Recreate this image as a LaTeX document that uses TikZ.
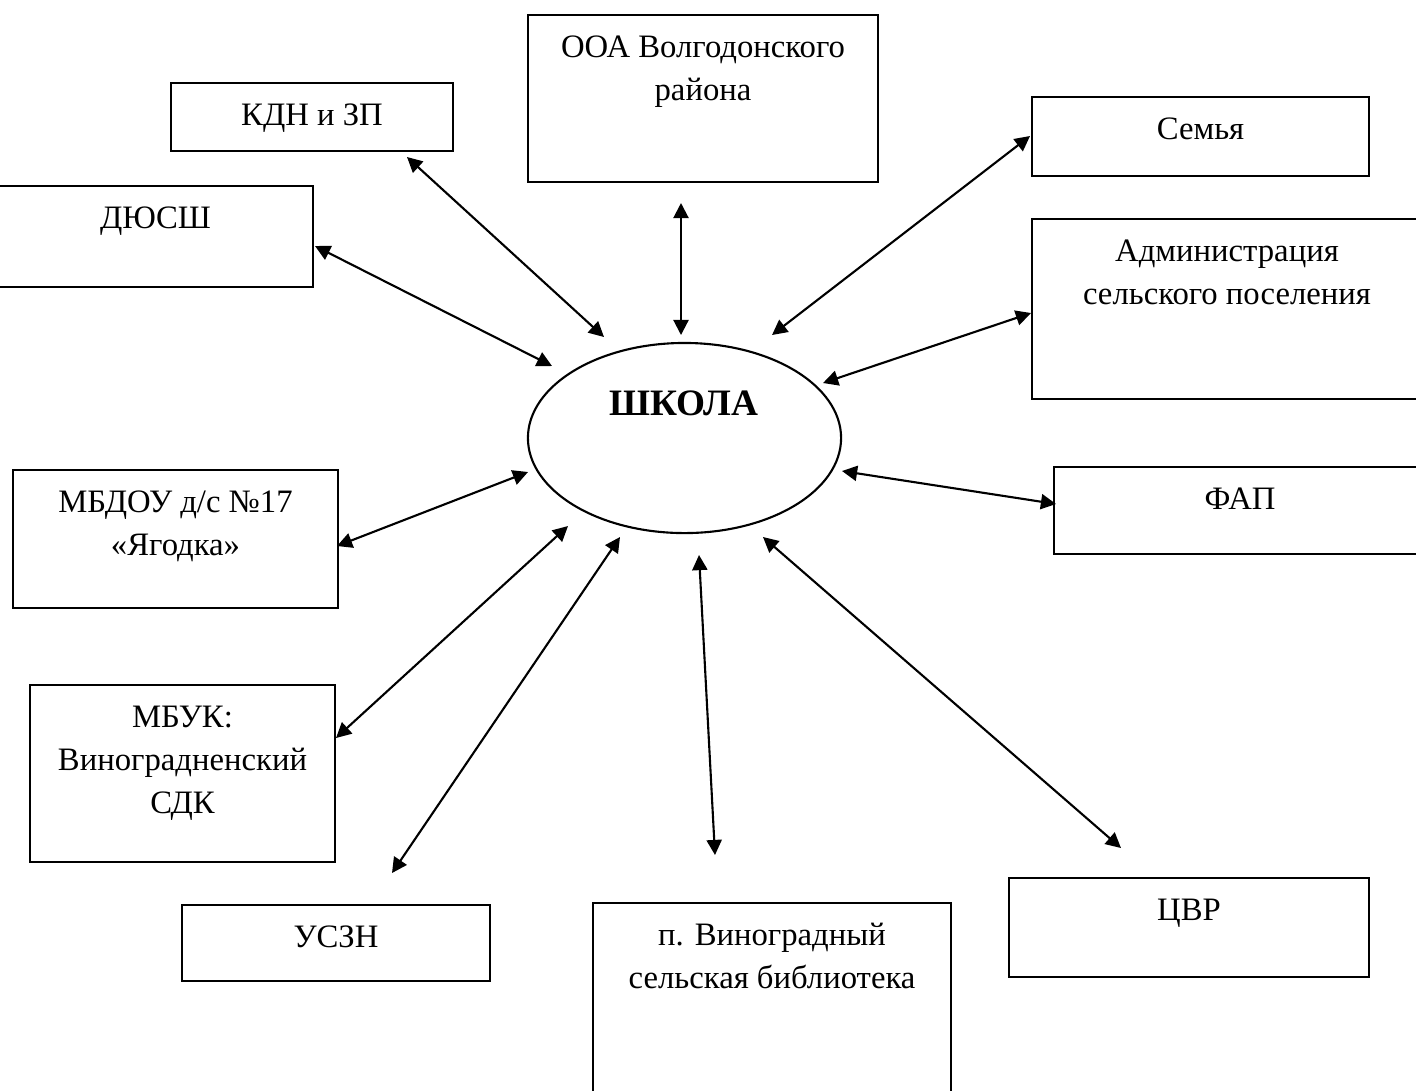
\documentclass[tikz,border=0pt]{standalone}
\usepackage{fontspec}
\setmainfont{Liberation Serif}
\usetikzlibrary{shapes.geometric, arrows.meta, positioning, fit}

\begin{document}
\begin{tikzpicture}[
		x=0.01cm, y=-0.01cm,
		box/.style={draw, line width=0.6pt, inner sep=0pt},
		boxtext/.style={inner sep=0pt, text width=3.8cm, align=flush center, font=\fontsize{9.3}{12.3}\selectfont, text height=8.6pt},
		link/.style={{Triangle[length=4.3pt,width=4.3pt]}-{Triangle[length=4.3pt,width=4.3pt]}, line width=0.6pt}
	]
	\useasboundingbox (0,0) rectangle (1416,1090);
	\clip (0,0) rectangle (1416,1090);

	% the school in the middle
	\node (school) [ellipse, draw, line width=0.6pt, inner sep=0pt, minimum width=3.13cm, minimum height=1.9cm] at (684.5,438) {};
	\node (schooltxt) [font=\fontsize{10.6}{13}\selectfont\bfseries] at (684,403) {ШКОЛА};

	% partner boxes
	\node (ooa) [box, fit={(528,15) (878,182)}] {};
	\node (kdn) [box, fit={(171,83) (453,151)}] {};
	\node (semya) [box, fit={(1032,97) (1369,176)}] {};
	\node (dyush) [box, fit={(-2,186) (313,287)}] {};
	\node (admin) [box, fit={(1032,219) (1422,399)}] {};
	\node (fap) [box, fit={(1054,467) (1426,554)}] {};
	\node (mbdou) [box, fit={(13,470) (338,608)}] {};
	\node (mbuk) [box, fit={(30,685) (335,862)}] {};
	\node (uszn) [box, fit={(182,905) (490,981)}] {};
	\node (lib) [box, fit={(593,903) (951,1100)}] {};
	\node (cvr) [box, fit={(1009,878) (1369,977)}] {};

	\node (ooatxt) [boxtext, below=3.5pt of ooa.north] {ООА Волгодонского\\района};
	\node (kdntxt) [boxtext, below=3.5pt of kdn.north] {КДН и ЗП};
	\node (semyatxt) [boxtext, below=3.5pt of semya.north] {Семья};
	\node (dyushtxt) [boxtext, below=3.5pt of dyush.north] {ДЮСШ};
	\node (admintxt) [boxtext, below=3.5pt of admin.north] {Администрация\\сельского поселения};
	\node (faptxt) [boxtext, below=3.5pt of fap.north] {ФАП};
	\node (mbdoutxt) [boxtext, below=3.5pt of mbdou.north] {МБДОУ д/с №17\\«Ягодка»};
	\node (mbuktxt) [boxtext, below=3.5pt of mbuk.north] {МБУК:\\Виноградненский\\СДК};
	\node (uszntxt) [boxtext, below=3.5pt of uszn.north] {УСЗН};
	\node (libtxt) [boxtext, below=3.5pt of lib.north] {п. Виноградный\\сельская библиотека};
	\node (cvrtxt) [boxtext, below=3.5pt of cvr.north] {ЦВР};

	% arrow ends
	\coordinate (kdn-a) at (407,157);   \coordinate (kdn-b) at (604,337);
	\coordinate (ooa-a) at (681,203);   \coordinate (ooa-b) at (681,335);
	\coordinate (semya-a) at (1030,136); \coordinate (semya-b) at (772,335);
	\coordinate (dyush-a) at (315,246); \coordinate (dyush-b) at (552,366);
	\coordinate (admin-a) at (1031,313); \coordinate (admin-b) at (823,383);
	\coordinate (fap-a) at (1056,504);  \coordinate (fap-b) at (842,471);
	\coordinate (mbdou-a) at (337,546); \coordinate (mbdou-b) at (528,472);
	\coordinate (mbuk-a) at (336,738);  \coordinate (mbuk-b) at (568,526);
	\coordinate (uszn-a) at (392,873);  \coordinate (uszn-b) at (620,537);
	\coordinate (lib-a) at (715,855);   \coordinate (lib-b) at (699,555);
	\coordinate (cvr-a) at (1121,848);  \coordinate (cvr-b) at (763,537);

	\draw[link] (kdn-a) -- (kdn-b);
	\draw[link] (ooa-a) -- (ooa-b);
	\draw[link] (semya-a) -- (semya-b);
	\draw[link] (dyush-a) -- (dyush-b);
	\draw[link] (admin-a) -- (admin-b);
	\draw[link] (fap-a) -- (fap-b);
	\draw[link] (mbdou-a) -- (mbdou-b);
	\draw[link] (mbuk-a) -- (mbuk-b);
	\draw[link] (uszn-a) -- (uszn-b);
	\draw[link] (lib-a) -- (lib-b);
	\draw[link] (cvr-a) -- (cvr-b);
\end{tikzpicture}
\end{document}
